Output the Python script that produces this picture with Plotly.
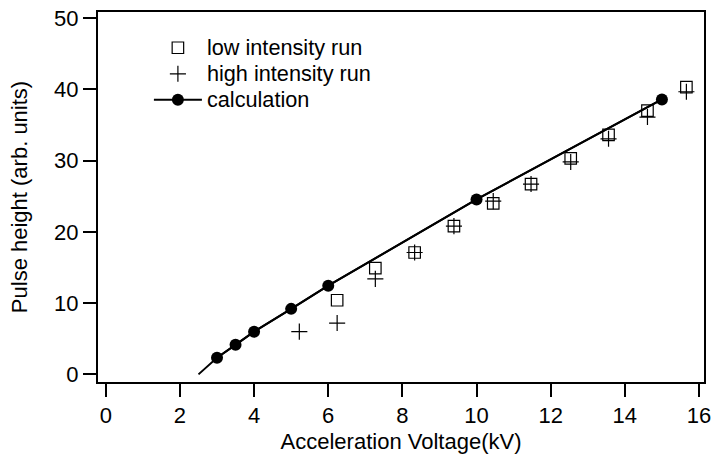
import plotly.graph_objects as go

# Calculation (line starts at threshold 2.5 kV, markers at computed points)
calc_line_x = [2.5, 3.0, 3.5, 4.0, 5.0, 6.0, 10.0, 15.0]
calc_line_y = [0.0, 2.33, 4.14, 5.99, 9.19, 12.44, 24.55, 38.58]
calc_x = [3.0, 3.5, 4.0, 5.0, 6.0, 10.0, 15.0]
calc_y = [2.33, 4.14, 5.99, 9.19, 12.44, 24.55, 38.58]

# Low intensity run (open squares)
low_x = [6.24, 7.27, 8.33, 9.39, 10.45, 11.47, 12.54, 13.56, 14.61, 15.66]
low_y = [10.4, 14.9, 17.1, 20.8, 24.0, 26.7, 30.3, 33.6, 37.0, 40.3]

# High intensity run (plus markers)
high_x = [5.22, 6.24, 7.27, 8.33, 9.39, 10.45, 11.47, 12.54, 13.56, 14.61, 15.66]
high_y = [6.0, 7.2, 13.4, 17.1, 20.8, 24.3, 26.7, 29.8, 33.05, 36.1, 39.65]

x_ticks = [0, 2, 4, 6, 8, 10, 12, 14, 16]
y_ticks = [0, 10, 20, 30, 40, 50]

FONT = "Liberation Sans, Arial, sans-serif"
FS = 22


def leg(name):
    return f'<span style="font-size:21.7px">{name}</span>'


fig = go.Figure()
fig.add_trace(go.Scatter(
    x=low_x, y=low_y, mode="markers", name=leg("low intensity run"),
    marker=dict(symbol="square-open", size=11.5, color="black", line=dict(width=1.2)),
))
fig.add_trace(go.Scatter(
    x=high_x, y=high_y, mode="markers", name=leg("high intensity run"),
    marker=dict(symbol="cross-thin-open", size=11.5, color="black", line=dict(width=1.2, color="black")),
))
fig.add_trace(go.Scatter(
    x=calc_line_x, y=calc_line_y, mode="lines", showlegend=False,
    line=dict(color="black", width=2), hoverinfo="skip",
))
fig.add_trace(go.Scatter(
    x=calc_x, y=calc_y, mode="lines+markers", name=leg("calculation"),
    line=dict(color="black", width=2),
    marker=dict(symbol="circle", size=12, color="black"),
))

fig.update_layout(
    width=717, height=461,
    margin=dict(l=97.5, r=6, t=9, b=79),
    paper_bgcolor="white", plot_bgcolor="white",
    font=dict(family=FONT, size=FS, color="black"),
    showlegend=True,
    legend=dict(
        x=0.0840, y=0.952, xanchor="left", yanchor="top",
        bgcolor="rgba(0,0,0,0)", borderwidth=0,
        font=dict(family=FONT, size=17.7, color="black"),
        itemwidth=48, tracegroupgap=0,
    ),
    xaxis=dict(
        range=[-0.21, 16.135], tickvals=x_ticks, ticktext=[str(v) for v in x_ticks],
        showgrid=False, zeroline=False, showline=True, mirror=True,
        linecolor="black", linewidth=2,
        ticks="outside", ticklen=13, tickwidth=1.5, tickcolor="black",
        title=dict(text="Acceleration Voltage(kV)", font=dict(family=FONT, size=FS), standoff=6),
        tickfont=dict(family=FONT, size=FS),
    ),
    yaxis=dict(
        range=[-1.07, 50.84], tickvals=y_ticks, ticktext=[str(v) for v in y_ticks],
        showgrid=False, zeroline=False, showline=True, mirror=True,
        linecolor="black", linewidth=2,
        ticks="outside", ticklen=13, tickwidth=1.5, tickcolor="black",
        title=dict(text="Pulse height (arb. units)", font=dict(family=FONT, size=FS), standoff=20),
        tickfont=dict(family=FONT, size=FS),
    ),
)

fig.write_html("out.html")
